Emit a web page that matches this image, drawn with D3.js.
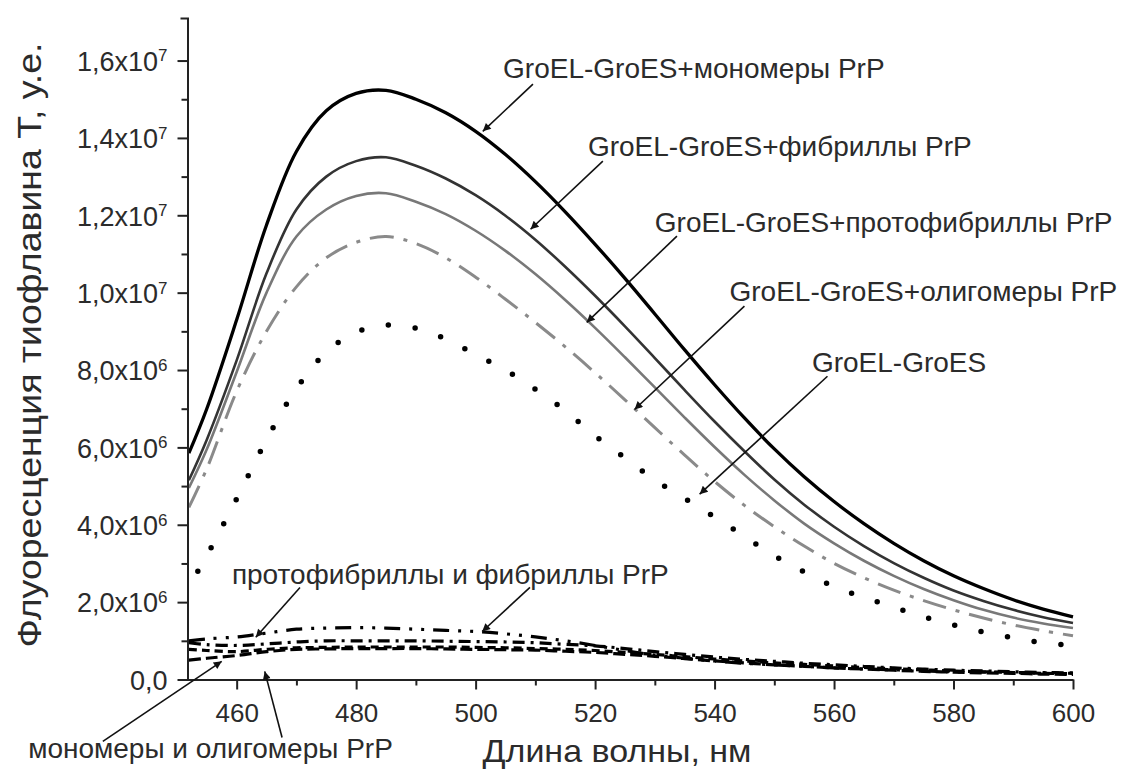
<!DOCTYPE html>
<html>
<head>
<meta charset="utf-8">
<script src="https://cdn.jsdelivr.net/npm/d3@7/dist/d3.min.js"></script>
<style>
body { margin: 0; background: #fff; }
text { font-family: "Liberation Sans", Arial, sans-serif; fill: #2b2b2b; }
</style>
</head>
<body>
<div id="chart"></div>
<script>
// wavelength grid, nm
var wavelengths = [452,455,460,465,470,475,480,485,490,495,500,505,510,515,520,525,530,535,540,545,550,555,560,565,570,575,580,585,590,595,600]
var dotWavelengths = [453.5,455,460,465,470,475,480,485,490,495,500,505,510,515,520,525,530,535,540,545,550,555,560,565,570,575,580,585,590,595,600]

// fluorescence, x10^6 a.u.
var groMonomers = [5.85,7.0,9.3,11.75,13.65,14.7,15.15,15.23,15.0,14.65,14.17,13.57,12.87,12.09,11.25,10.37,9.45,8.52,7.62,6.76,5.96,5.24,4.6,4.03,3.52,3.07,2.68,2.35,2.06,1.82,1.62]
var groFibrils = [5.15,6.2,8.25,10.5,12.15,13.0,13.4,13.5,13.28,12.95,12.52,11.99,11.37,10.67,9.92,9.13,8.31,7.48,6.67,5.9,5.17,4.52,3.95,3.45,3.01,2.63,2.3,2.03,1.8,1.61,1.46]
var groProtofibrils = [4.95,5.95,7.95,10.0,11.45,12.15,12.5,12.57,12.35,12.03,11.6,11.08,10.48,9.81,9.09,8.33,7.55,6.77,6.01,5.29,4.63,4.03,3.52,3.07,2.68,2.34,2.05,1.8,1.6,1.45,1.33]
var groOligomers = [4.45,5.45,7.45,9.0,10.15,10.9,11.3,11.45,11.27,10.9,10.4,9.83,9.23,8.6,7.93,7.23,6.51,5.8,5.12,4.5,3.95,3.45,3.0,2.63,2.31,2.04,1.8,1.59,1.41,1.26,1.13]
var groelGroes = [2.8,3.2,4.67,6.2,7.52,8.46,8.98,9.16,9.08,8.8,8.4,8.0,7.5,6.95,6.3,5.73,5.16,4.68,4.2,3.7,3.2,2.78,2.4,2.12,1.87,1.62,1.41,1.23,1.08,0.95,0.88]
var protofibrils = [1.0,1.05,1.1,1.2,1.3,1.33,1.34,1.33,1.3,1.27,1.24,1.18,1.1,1.0,0.88,0.75,0.63,0.55,0.48,0.42,0.38,0.34,0.3,0.27,0.25,0.22,0.2,0.19,0.18,0.17,0.16]
var fibrils = [0.95,0.9,0.88,0.92,0.97,1.0,1.0,1.0,1.0,0.99,0.98,0.97,0.95,0.91,0.87,0.8,0.72,0.65,0.58,0.52,0.47,0.42,0.38,0.34,0.3,0.27,0.24,0.22,0.2,0.18,0.17]
var oligomers = [0.78,0.75,0.72,0.78,0.82,0.83,0.84,0.84,0.84,0.84,0.83,0.82,0.8,0.78,0.75,0.7,0.65,0.59,0.53,0.48,0.43,0.39,0.35,0.31,0.28,0.25,0.22,0.2,0.18,0.16,0.15]
var monomers = [0.5,0.55,0.62,0.72,0.78,0.79,0.8,0.8,0.8,0.79,0.78,0.77,0.76,0.73,0.7,0.65,0.6,0.54,0.48,0.43,0.38,0.34,0.3,0.27,0.24,0.21,0.19,0.17,0.16,0.14,0.13]

// ticks
var xTicks = [460,480,500,520,540,560,580,600]
var xMinorTicks = [470,490,510,530,550,570,590]
var yTicks = [0,2,4,6,8,10,12,14,16]
var yMinorTicks = [1,3,5,7,9,11,13,15]
var yTickLabels = ['0,0','2,0x10','4,0x10','6,0x10','8,0x10','1,0x10','1,2x10','1,4x10','1,6x10']
var yTickExps = ['','6','6','6','6','7','7','7','7']

// annotations: labels at [wavelength, value], arrows from tail to tip
var labelTexts = ['GroEL-GroES+мономеры PrP','GroEL-GroES+фибриллы PrP','GroEL-GroES+протофибриллы PrP','GroEL-GroES+олигомеры PrP','GroEL-GroES','протофибриллы и фибриллы PrP','мономеры и олигомеры PrP']
var labelWl = [504.6,518.8,530.0,542.5,556.3,459.2,425.1]
var labelVal = [15.55,13.53,11.56,9.78,7.94,2.46,-2.02]
var arrowTail = [[509.6,15.39],[521.3,13.4],[533.7,11.46],[545.0,9.65],[558.9,7.84],[470.6,2.38],[509.1,2.38],[437.6,-1.6],[467.6,-1.5]]
var arrowTip = [[501.2,14.17],[509.2,11.64],[518.6,9.23],[526.6,6.98],[537.5,4.79],[463.2,1.09],[501.1,1.24],[457.5,0.47],[464.7,0.21]]

var width = 1127, height = 770

var svg = d3.select('#chart').append('svg')
  .attr('width', width)
  .attr('height', height)

var x = d3.scaleLinear().domain([451.77, 600]).range([187.5, 1073])
var y = d3.scaleLinear().domain([0, 17.1]).range([679.5, 18])

var series = [
  {wl: wavelengths, v: monomers, stroke: '#000', w: 3.2, dash: '12,5'},
  {wl: wavelengths, v: oligomers, stroke: '#000', w: 3.2, dash: '8,5'},
  {wl: wavelengths, v: fibrils, stroke: '#000', w: 3.2, dash: '12,6,3,6'},
  {wl: wavelengths, v: protofibrils, stroke: '#000', w: 3.2, dash: '16,9,3,9,3,9'},
  {wl: dotWavelengths, v: groelGroes, stroke: '#000', w: 5.5, dash: '0,27', cap: 'round'},
  {wl: wavelengths, v: groOligomers, stroke: '#8a8a8a', w: 3, dash: '24,10,4,10'},
  {wl: wavelengths, v: groProtofibrils, stroke: '#787878', w: 2.6},
  {wl: wavelengths, v: groFibrils, stroke: '#333', w: 2.6},
  {wl: wavelengths, v: groMonomers, stroke: '#000', w: 3.3}
]

var line = d3.line()
  .x(d => x(d[0]))
  .y(d => y(d[1]))
  .curve(d3.curveCatmullRom.alpha(0.5))

svg.append('g').selectAll('path')
  .data(series)
  .enter().append('path')
    .attr('d', s => line(s.wl.map((w, i) => [w, s.v[i]])))
    .attr('fill', 'none')
    .attr('stroke', s => s.stroke)
    .attr('stroke-width', s => s.w)
    .attr('stroke-dasharray', s => s.dash || null)
    .attr('stroke-linecap', s => s.cap || 'butt')

// axes
var axisColor = '#222'
var xAxis = svg.append('g')
  .attr('transform', 'translate(0,' + y(0) + ')')
  .call(d3.axisBottom(x).tickValues(xTicks).tickSize(10).tickSizeOuter(0).tickPadding(14))
svg.append('g')
  .attr('transform', 'translate(0,' + y(0) + ')')
  .call(d3.axisBottom(x).tickValues(xMinorTicks).tickSize(6).tickFormat(''))
  .call(g => g.select('.domain').remove())

var yAxis = svg.append('g')
  .attr('transform', 'translate(' + x(451.77) + ',0)')
  .call(d3.axisLeft(y).tickValues(yTicks).tickSize(10).tickSizeOuter(7).tickFormat(''))
svg.append('g')
  .attr('transform', 'translate(' + x(451.77) + ',0)')
  .call(d3.axisLeft(y).tickValues(yMinorTicks).tickSize(6).tickFormat(''))
  .call(g => g.select('.domain').remove())

svg.selectAll('.domain, .tick line')
  .attr('stroke', axisColor)
  .attr('stroke-width', 2)

xAxis.selectAll('.tick text')
  .style('font-size', '26px')
  .attr('fill', '#333')

yAxis.selectAll('.tick').each(function(d, i) {
  var t = d3.select(this).append('text')
    .attr('x', -20)
    .attr('dy', '0.36em')
    .attr('text-anchor', 'end')
    .style('font-size', '27px')
    .attr('fill', '#333')
  t.append('tspan').text(yTickLabels[i])
  if (yTickExps[i]) {
    t.append('tspan').attr('dy', '-0.55em').style('font-size', '17px').text(yTickExps[i])
  }
})

// axis titles
svg.append('text')
  .attr('x', 617)
  .attr('y', 762)
  .attr('text-anchor', 'middle')
  .attr('textLength', 269)
  .attr('lengthAdjust', 'spacingAndGlyphs')
  .style('font-size', '32px')
  .text('Длина волны, нм')

svg.append('text')
  .attr('transform', 'translate(41,345) rotate(-90)')
  .attr('text-anchor', 'middle')
  .attr('textLength', 605)
  .attr('lengthAdjust', 'spacingAndGlyphs')
  .style('font-size', '33px')
  .text('Флуоресценция тиофлавина Т, у.е.')

// annotations
svg.append('defs').append('marker')
  .attr('id', 'head')
  .attr('viewBox', '0 0 10 10')
  .attr('refX', 10)
  .attr('refY', 5)
  .attr('markerUnits', 'userSpaceOnUse')
  .attr('markerWidth', 14)
  .attr('markerHeight', 8)
  .attr('orient', 'auto')
  .append('path')
    .attr('d', 'M0,0L10,5L0,10z')
    .attr('fill', '#111')

svg.append('g').selectAll('line')
  .data(arrowTip)
  .enter().append('line')
    .attr('x1', (d, i) => x(arrowTail[i][0]))
    .attr('y1', (d, i) => y(arrowTail[i][1]))
    .attr('x2', d => x(d[0]))
    .attr('y2', d => y(d[1]))
    .attr('stroke', '#111')
    .attr('stroke-width', 1.6)
    .attr('marker-end', 'url(#head)')

svg.append('g').selectAll('text')
  .data(labelTexts)
  .enter().append('text')
    .attr('x', (d, i) => x(labelWl[i]))
    .attr('y', (d, i) => y(labelVal[i]))
    .style('font-size', '28px')
    .text(d => d)
</script>
</body>
</html>
